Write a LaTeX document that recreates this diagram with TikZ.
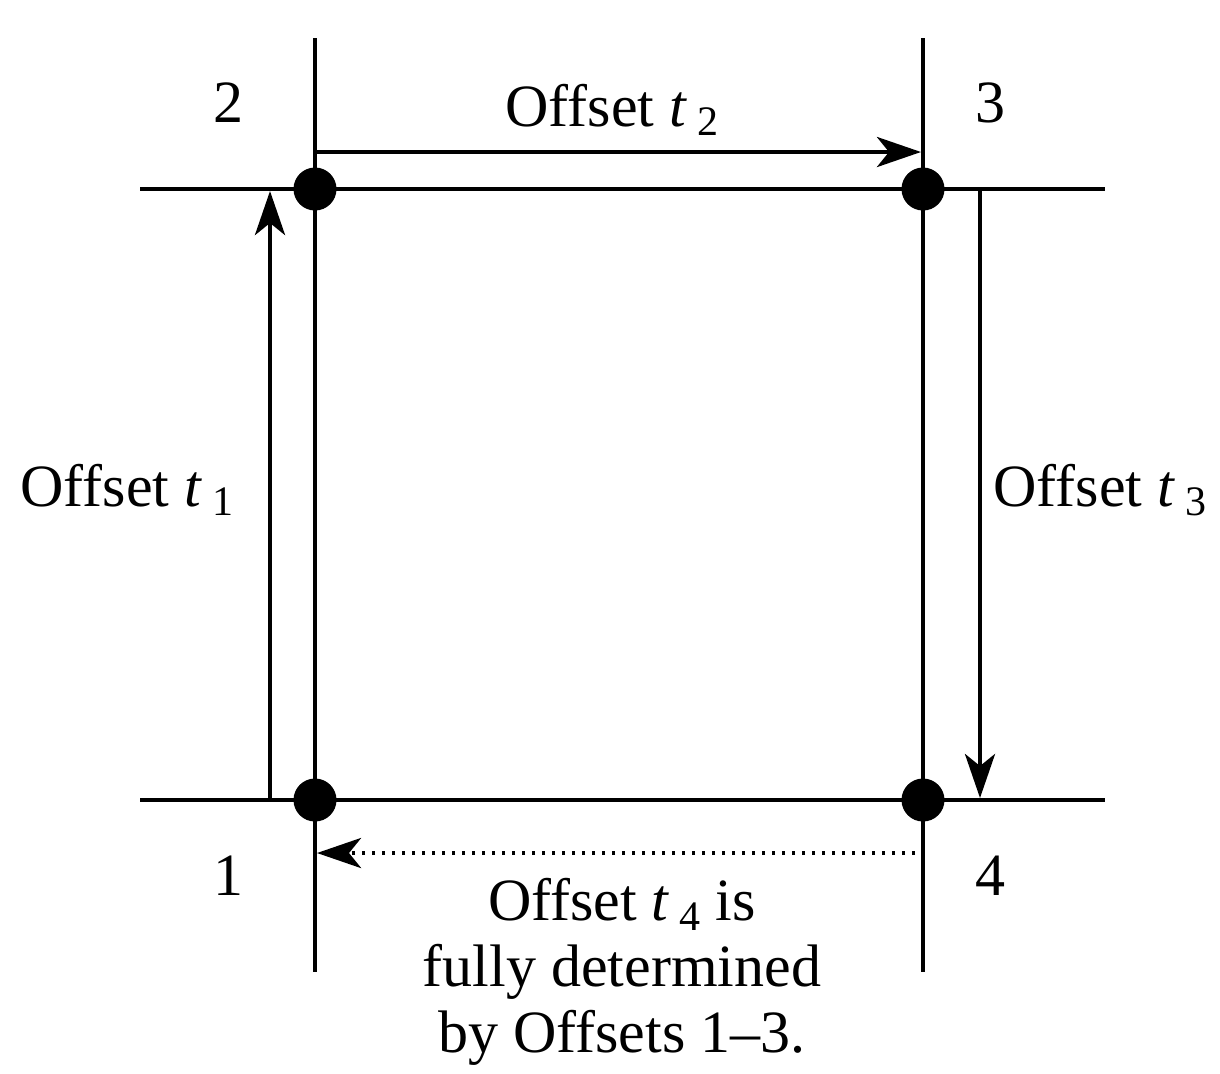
\documentclass[tikz,border=0pt]{standalone}
\usepackage{fontspec}
\setmainfont{Liberation Serif}
\newfontfamily\figfont[Ligatures=TeX]{Liberation Serif}
\usetikzlibrary{arrows.meta,positioning}
\newcommand{\offt}[1]{\textit{t}\,\raisebox{-0.35ex}{\fontsize{21}{21}\selectfont #1}}

\begin{document}
\begin{tikzpicture}[
  x=0.5pt, y=-0.5pt,
  font=\figfont\fontsize{30}{33}\selectfont,
  grid/.style={line width=2.3pt},
  corner/.style={circle, fill=black, inner sep=0pt, minimum size=21.5pt},
  offset/.style={line width=2.3pt, -{Stealth[length=22pt,width=15pt,inset=6pt]}},
  guess/.style={offset, dash pattern=on 1.5pt off 3.5pt},
  lbl/.style={align=center, inner sep=0pt}
]
\useasboundingbox (0,0) rectangle (1220,1073);

% ----- grid lines
\coordinate (L1) at (315,38);  \coordinate (L2) at (315,972);
\coordinate (R1) at (923,38);  \coordinate (R2) at (923,972);
\coordinate (T1) at (140,189); \coordinate (T2) at (1105,189);
\coordinate (B1) at (140,800); \coordinate (B2) at (1105,800);
\draw[grid] (L1) -- (L2);
\draw[grid] (R1) -- (R2);
\draw[grid] (T1) -- (T2);
\draw[grid] (B1) -- (B2);

% ----- corner dots
\node[corner] (c1) at (315,800) {};
\node[corner] (c2) at (315,189) {};
\node[corner] (c3) at (923,189) {};
\node[corner] (c4) at (923,800) {};

% ----- corner numbers
\node[lbl] (n1) at (228,876) {1};
\node[lbl] (n2) at (228,103) {2};
\node[lbl] (n3) at (990,103) {3};
\node[lbl] (n4) at (990,876) {4};

% ----- offsets
\coordinate (a1s) at (270,800); \coordinate (a1e) at (270,191);
\coordinate (a2s) at (317,152); \coordinate (a2e) at (921,152);
\coordinate (a3s) at (980,191); \coordinate (a3e) at (980,798);
\coordinate (a4s) at (915,853); \coordinate (a4e) at (317,853);
\draw[offset] (a1s) -- (a1e);
\draw[offset] (a2s) -- (a2e);
\draw[offset] (a3s) -- (a3e);
\draw[guess] (a4s) -- (a4e);

\node[lbl] (t1) at (127,490) {Offset \offt{1}};
\node[lbl] (t2) at (612,110) {Offset \offt{2}};
\node[lbl] (t3) at (1100,490) {Offset \offt{3}};
\node[lbl, anchor=north] (t4) at (622,878) {Offset \offt{4} is\\fully determined\\by Offsets 1--3.};

\end{tikzpicture}
\end{document}
